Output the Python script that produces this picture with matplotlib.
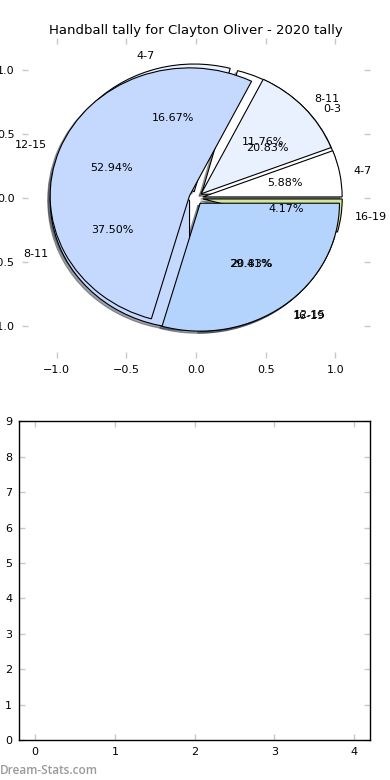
import matplotlib
matplotlib.use("Agg")
import matplotlib.pyplot as plt

title = "Handball tally for Clayton Oliver - 2020 tally"
labels_b = ["0-3", "4-7", "8-11", "12-15", "16-19"]
values_b = [5, 4, 9, 5, 1]
labels_a = ["4-7", "8-11", "12-15", "16-19"]
values_a = [1, 2, 9, 5]
colors = ["#ffffff", "#e9f1fe", "#c5d8fd", "#b4d4fe", "#d3e89c"]
x_ticks = [-1.0, -0.5, 0.0, 0.5, 1.0]
y_ticks = [-1.0, -0.5, 0.0, 0.5, 1.0]
bottom_xticks = [0, 1, 2, 3, 4]
bottom_yticks = [0, 1, 2, 3, 4, 5, 6, 7, 8, 9]

plt.rcParams["font.family"] = ["DejaVu Sans"]
plt.rcParams["font.size"] = 8

fig = plt.figure(figsize=(3.9, 7.8), dpi=100)
ax = fig.add_axes([0.056, 0.541, 0.893, 0.410])
ax2 = fig.add_axes([0.049, 0.051, 0.900, 0.409])

wp = {"edgecolor": "black", "linewidth": 0.8}
shadow = {"ox": -0.012, "oy": -0.012}
ax.pie(values_b, labels=labels_b, colors=colors[:len(values_b)],
       explode=[0.05] * len(values_b), shadow=shadow, autopct="%1.2f%%",
       startangle=0, wedgeprops=wp, frame=False, textprops={"fontsize": 8})
ax.pie(values_a, labels=labels_a, colors=colors[:len(values_a)],
       explode=[0.05] * len(values_a), shadow=shadow, autopct="%1.2f%%",
       startangle=0, wedgeprops=wp, frame=False, textprops={"fontsize": 8})
ax.set_aspect("auto")
ax.set_xlim(-1.25, 1.25)
ax.set_ylim(-1.25, 1.25)
ax.set_xticks(x_ticks)
ax.set_yticks(y_ticks)
ax.set_xticklabels([f"{v:.1f}".replace("-", "\u2212") for v in x_ticks])
ax.set_yticklabels([f"{v:.1f}".replace("-", "\u2212") for v in y_ticks])
ax.set_frame_on(False)
ax.tick_params(direction="in", top=True, right=True, length=4, width=1,
               color="#c8c8c8", labelsize=8, pad=5)
ax.set_title(title, fontsize=9.5, pad=3)

ax2.set_xlim(-0.2, len(labels_b) - 1 + 0.2)
ax2.set_ylim(0, max(values_b))
ax2.set_xticks(bottom_xticks)
ax2.set_yticks(bottom_yticks)
ax2.tick_params(direction="in", top=True, right=True, length=4, width=1,
                color="#c8c8c8", labelsize=8, pad=5)
for s in ax2.spines.values():
    s.set_linewidth(1.0)

fig.text(0.0, 0.004, "Dream-Stats.com", color="#9a9a9a", fontsize=8.5,
         family="Open Sans", fontweight="semibold", ha="left", va="bottom")

fig.savefig("out.png", dpi=100)
